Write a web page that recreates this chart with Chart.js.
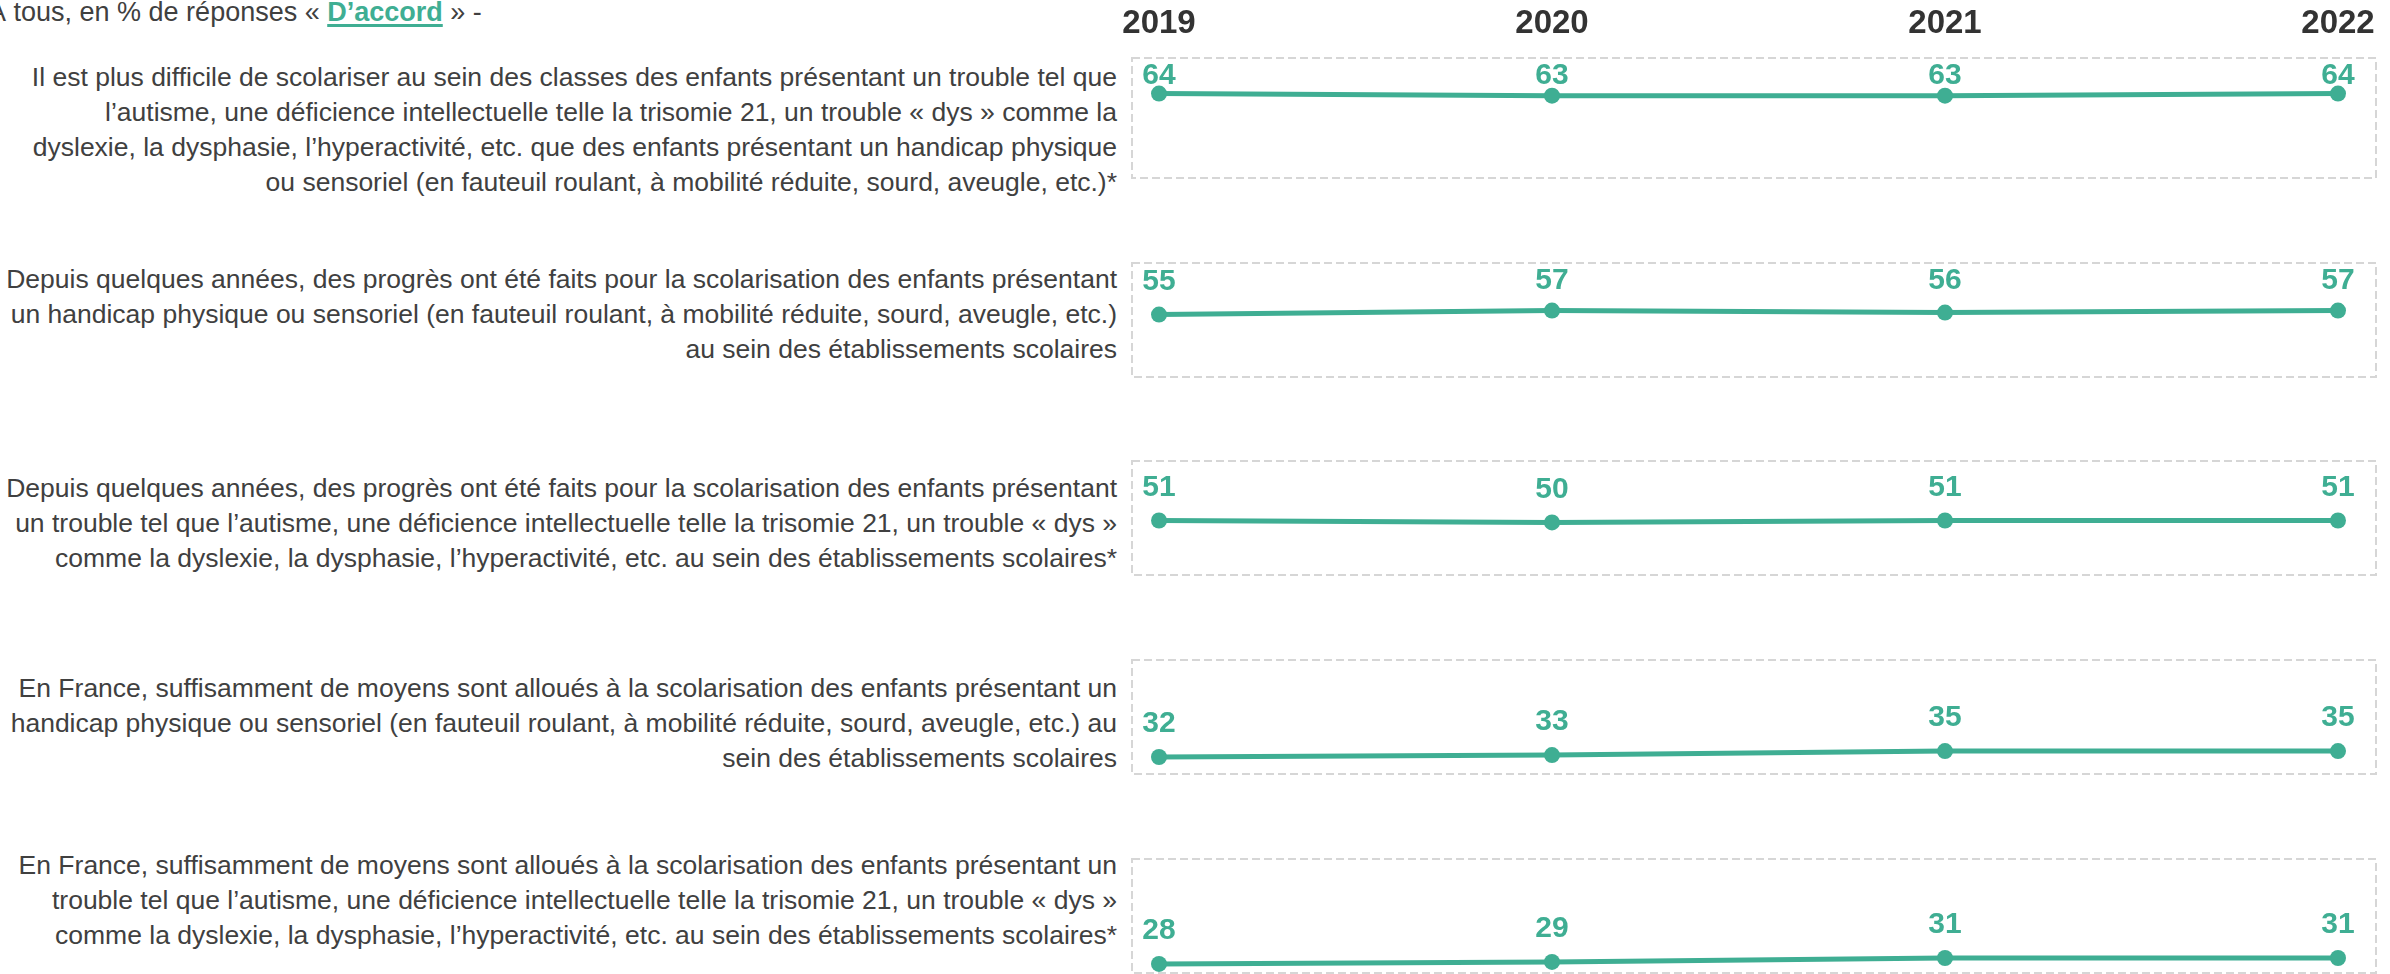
<!DOCTYPE html>
<html lang="fr">
<head>
<meta charset="utf-8">
<script src="https://cdn.jsdelivr.net/npm/chart.js@4.4.1/dist/chart.umd.min.js"></script>
<style>
    html, body {
        margin: 0;
        padding: 0;
        width: 2390px;
        height: 974px;
        overflow: hidden;
        background: #ffffff;
        font-family: "Liberation Sans", Arial, sans-serif;
        color: #404040;
    }
    .title {
        position: absolute;
        left: -12px;
        top: -2px;
        font-size: 27px;
        line-height: 28px;
        white-space: nowrap;
    }
    .title b {
        color: #3fae93;
        text-decoration: underline;
        text-decoration-thickness: 3px;
        text-underline-offset: 3px;
    }
    .statement {
        position: absolute;
        right: 1273px;
        width: 1140px;
        text-align: right;
        font-size: 26.5px;
        line-height: 35px;
        white-space: pre-line;
    }
    .panel {
        position: absolute;
        left: 1100px;
        width: 1290px;
    }
</style>
</head>
<body>
<div class="title">À tous, en % de réponses « <b>D’accord</b> » -</div>
<div id="statements"></div>
<div id="panels"></div>

<script>
const years = ["2019", "2020", "2021", "2022"];

const statements = [
    "Il est plus difficile de scolariser au sein des classes des enfants présentant un trouble tel que\nl’autisme, une déficience intellectuelle telle la trisomie 21, un trouble « dys » comme la\ndyslexie, la dysphasie, l’hyperactivité, etc. que des enfants présentant un handicap physique\nou sensoriel (en fauteuil roulant, à mobilité réduite, sourd, aveugle, etc.)*",
    "Depuis quelques années, des progrès ont été faits pour la scolarisation des enfants présentant\nun handicap physique ou sensoriel (en fauteuil roulant, à mobilité réduite, sourd, aveugle, etc.)\nau sein des établissements scolaires",
    "Depuis quelques années, des progrès ont été faits pour la scolarisation des enfants présentant\nun trouble tel que l’autisme, une déficience intellectuelle telle la trisomie 21, un trouble « dys »\ncomme la dyslexie, la dysphasie, l’hyperactivité, etc. au sein des établissements scolaires*",
    "En France, suffisamment de moyens sont alloués à la scolarisation des enfants présentant un\nhandicap physique ou sensoriel (en fauteuil roulant, à mobilité réduite, sourd, aveugle, etc.) au\nsein des établissements scolaires",
    "En France, suffisamment de moyens sont alloués à la scolarisation des enfants présentant un\ntrouble tel que l’autisme, une déficience intellectuelle telle la trisomie 21, un trouble « dys »\ncomme la dyslexie, la dysphasie, l’hyperactivité, etc. au sein des établissements scolaires*",
];

const harderToInclude = [64, 63, 63, 64];
const progressPhysical = [55, 57, 56, 57];
const progressCognitive = [51, 50, 51, 51];
const meansPhysical = [32, 33, 35, 35];
const meansCognitive = [28, 29, 31, 31];

const series = [harderToInclude, progressPhysical, progressCognitive, meansPhysical, meansCognitive];

// layout (px)
const panelTops = [58, 257, 455, 654, 853];
const panelHeight = 125;
const textTops = [60, 262, 471, 671, 848];
const GREEN = "#3fae93";
const BORDER_LEFT = 27;
const BORDER_RIGHT = 38;

const panelBorder = {
    id: "panelBorder",
    beforeDatasetsDraw(chart) {
        const { ctx, chartArea } = chart;
        ctx.save();
        ctx.strokeStyle = "#d6d6d6";
        ctx.lineWidth = 2;
        ctx.setLineDash([8, 4]);
        ctx.strokeRect(
            chartArea.left - BORDER_LEFT,
            chartArea.top,
            chartArea.right - chartArea.left + BORDER_LEFT + BORDER_RIGHT,
            chartArea.bottom - chartArea.top
        );
        ctx.restore();
    },
};

// value above each point, kept inside the box when the line runs close to its top
const valueLabels = {
    id: "valueLabels",
    afterDatasetsDraw(chart) {
        const { ctx, chartArea } = chart;
        const meta = chart.getDatasetMeta(0);
        const values = chart.data.datasets[0].data;
        ctx.save();
        ctx.fillStyle = GREEN;
        ctx.font = "bold 30px 'Liberation Sans', Arial, sans-serif";
        ctx.textAlign = "center";
        ctx.textBaseline = "middle";
        meta.data.forEach((pt, i) => {
            const y = Math.max(pt.y - 33, chartArea.top + 18);
            ctx.fillText(String(values[i]), pt.x, y);
        });
        ctx.restore();
    },
};

function buildPanel(index) {
    const first = index === 0;
    const wrap = document.createElement("div");
    wrap.className = "panel";
    const top = first ? 0 : panelTops[index] - 2;
    const height = first ? panelTops[0] + panelHeight + 3 : panelHeight + 5;
    wrap.style.top = top + "px";
    wrap.style.height = height + "px";
    const canvas = document.createElement("canvas");
    wrap.appendChild(canvas);
    document.getElementById("panels").appendChild(wrap);

    const xScale = {
        display: first,
        position: "top",
        offset: false,
        grid: { display: false, drawTicks: false },
        border: { display: false },
        ticks: {
            color: "#333333",
            font: { family: "'Liberation Sans', Arial, sans-serif", size: 33, weight: "bold" },
            padding: 14,
            maxRotation: 0,
            autoSkip: false,
        },
    };
    if (first) {
        xScale.afterFit = (axis) => {
            axis.height = panelTops[0];
        };
    }

    new Chart(canvas, {
        type: "line",
        data: {
            labels: years,
            datasets: [
                {
                    data: series[index],
                    borderColor: GREEN,
                    backgroundColor: GREEN,
                    borderWidth: 5,
                    pointRadius: 8,
                    pointHoverRadius: 8,
                    pointBorderWidth: 0,
                    tension: 0,
                    clip: false,
                },
            ],
        },
        options: {
            responsive: true,
            maintainAspectRatio: false,
            animation: false,
            events: [],
            layout: {
                padding: { left: 59, right: 52, top: first ? 0 : 2, bottom: 3 },
            },
            plugins: {
                legend: { display: false },
                tooltip: { enabled: false },
            },
            scales: {
                x: xScale,
                y: {
                    display: false,
                    min: 23.4,
                    max: 81.1,
                },
            },
        },
        plugins: [panelBorder, valueLabels],
    });
}

statements.forEach((text, i) => {
    const div = document.createElement("div");
    div.className = "statement";
    div.style.top = textTops[i] + "px";
    div.textContent = text;
    document.getElementById("statements").appendChild(div);
    buildPanel(i);
});
</script>
</body>
</html>
